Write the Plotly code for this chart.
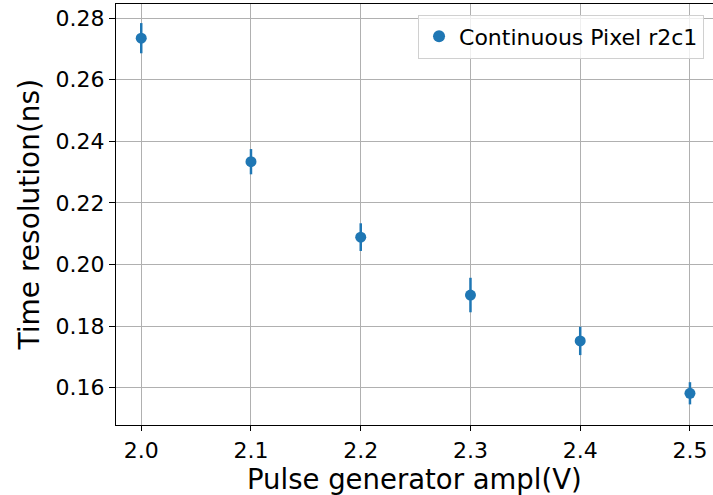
import plotly.graph_objects as go

amplitude_v = [2.0, 2.1, 2.2, 2.3, 2.4, 2.5]
time_res_ns = [0.2735, 0.2334, 0.2089, 0.1901, 0.1752, 0.1582]
time_res_err = [0.0049, 0.0041, 0.0045, 0.0056, 0.0046, 0.0036]
x_ticks = [2.0, 2.1, 2.2, 2.3, 2.4, 2.5]
y_ticks = [0.16, 0.18, 0.20, 0.22, 0.24, 0.26, 0.28]
x_title = "Pulse generator ampl(V)"
y_title = "Time resolution(ns)"

blue = "#1f77b4"
font = "DejaVu Sans"

fig = go.Figure()
fig.add_trace(go.Scatter(
    x=amplitude_v, y=time_res_ns, mode="markers",
    name="Continuous Pixel r2c1",
    marker=dict(color=blue, size=11),
    error_y=dict(type="data", array=time_res_err, visible=True,
                 color=blue, thickness=2.5, width=0),
))

fig.add_annotation(text=x_title, xref="paper", yref="paper", x=0.5, y=0,
                   xanchor="center", yanchor="top", yshift=-37, showarrow=False,
                   borderpad=0, font=dict(size=27.5, family=font, color="black"))
fig.add_annotation(text=y_title, xref="paper", yref="paper", x=0, y=0.5,
                   xanchor="center", yanchor="middle", xshift=-87, textangle=-90,
                   borderpad=0, showarrow=False, font=dict(size=28, family=font, color="black"))

fig.update_layout(
    width=713, height=495,
    margin=dict(l=116, r=0, t=4, b=70, autoexpand=False),
    paper_bgcolor="white", plot_bgcolor="white",
    font=dict(family=font, size=22, color="black"),
    showlegend=True,
    legend=dict(x=0.985, y=0.975, xanchor="right", yanchor="top",
                bgcolor="rgba(255,255,255,0.8)", bordercolor="#d0d0d0",
                borderwidth=1, font=dict(size=22, family=font),
                itemsizing="constant"),
    xaxis=dict(
        range=[1.977, 2.521], tickvals=x_ticks,
        ticktext=[f"{v:.1f}" for v in x_ticks],
        showgrid=True, gridcolor="#b0b0b0", gridwidth=1,
        showline=True, linecolor="black", linewidth=1.2, mirror=True,
        ticks="outside", ticklen=5, tickcolor="black",
        zeroline=False, automargin=False,
    ),
    yaxis=dict(
        range=[0.1479, 0.2846], tickvals=y_ticks,
        ticktext=[f"{v:.2f}" for v in y_ticks],
        showgrid=True, gridcolor="#b0b0b0", gridwidth=1,
        showline=True, linecolor="black", linewidth=1.2,
        ticks="outside", ticklen=6, tickcolor="black",
        zeroline=False, automargin=False,
    ),
)

fig.write_html("out.html", config={"displayModeBar": False},
               post_script="document.body.style.margin='0';document.body.style.overflow='hidden';")
